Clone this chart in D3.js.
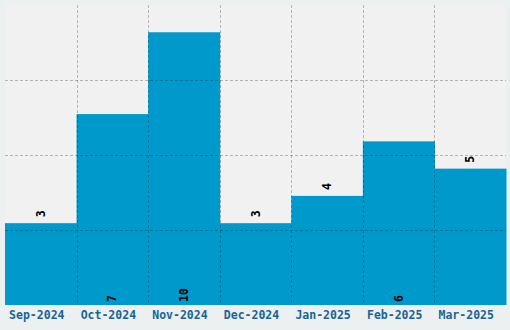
<!DOCTYPE html>
<html>
<head>
<meta charset="utf-8">
<script src="https://cdn.jsdelivr.net/npm/d3@7"></script>
<style>
  body { margin: 0; background: #edf0f0; }
  svg { display: block; }
  .tick-label { font-family: "DejaVu Sans Mono", monospace; font-weight: bold; font-size: 11.5px; fill: #17649a; }
  .val { font-family: "DejaVu Sans Mono", monospace; font-weight: bold; font-size: 11.5px; fill: #000; }
</style>
</head>
<body>
<svg id="chart"></svg>
<script>
var months = ["Sep-2024", "Oct-2024", "Nov-2024", "Dec-2024", "Jan-2025", "Feb-2025", "Mar-2025"];
var counts = [3, 7, 10, 3, 4, 6, 5];
var yMax = 11;

var width = 510,
    height = 330;
// plot area (note: "top" is a reserved window global, so prefix these)
var plotLeft = 5, plotRight = 506, plotTop = 5, plotBottom = 305;

var svg = d3.select("#chart")
    .attr("width", width)
    .attr("height", height);

var x = d3.scaleBand()
    .domain(months)
    .range([plotLeft, plotRight]);

var y = d3.scaleLinear()
    .domain([0, yMax])
    .range([plotBottom, plotTop]);

// plot background
svg.append("rect")
    .attr("x", plotLeft).attr("y", plotTop)
    .attr("width", plotRight - plotLeft).attr("height", plotBottom - plotTop)
    .attr("fill", "#f1f1f1");

// bars
svg.append("g").selectAll("rect")
    .data(counts).enter()
    .append("rect")
    .attr("x", function(d, i) { return x(months[i]); })
    .attr("y", function(d) { return y(d); })
    .attr("width", x.bandwidth() + 0.5)
    .attr("height", function(d) { return y(0) - y(d); })
    .attr("fill", "#0099cc");

// horizontal grid (4 even divisions)
var yGrid = d3.axisLeft(y)
    .tickValues([1, 2, 3].map(function(i) { return yMax * i / 4; }))
    .tickSize(-(plotRight - plotLeft))
    .tickFormat("");
svg.append("g")
    .attr("transform", "translate(" + plotLeft + ",-0.5)")
    .call(yGrid)
    .call(function(g) { g.select(".domain").remove(); })
    .selectAll("line")
    .attr("stroke", "rgba(0,0,0,0.25)")
    .attr("stroke-dasharray", "3,2")
    .attr("shape-rendering", "crispEdges");

// vertical grid at band boundaries
svg.append("g").selectAll("line")
    .data(months.slice(1)).enter()
    .append("line")
    .attr("x1", function(d) { return Math.round(x(d)) + 0.5; })
    .attr("x2", function(d) { return Math.round(x(d)) + 0.5; })
    .attr("y1", plotTop)
    .attr("y2", plotBottom)
    .attr("stroke", "rgba(0,0,0,0.25)")
    .attr("stroke-dasharray", "3,2")
    .attr("shape-rendering", "crispEdges");

// x axis labels
var xAxis = d3.axisBottom(x).tickSize(0).tickPadding(0);
svg.append("g")
    .attr("transform", "translate(-4," + plotBottom + ")")
    .call(xAxis)
    .call(function(g) { g.select(".domain").remove(); })
    .selectAll("text")
    .attr("class", "tick-label")
    .attr("y", 14)
    .attr("dy", null);
svg.selectAll(".tick-label").each(function() {
  this.parentNode.parentNode.removeAttribute("font-family");
  this.parentNode.parentNode.removeAttribute("font-size");
});

// value labels, rotated
svg.append("g").selectAll("text")
    .data(counts).enter()
    .append("text")
    .attr("class", "val")
    .attr("text-anchor", "start")
    .attr("dy", "0.35em")
    .attr("transform", function(d, i) {
      var cx = x(months[i]) + x.bandwidth() / 2;
      var cy = d > 5 ? plotBottom - 3 : y(d) - 6;
      return "translate(" + cx + "," + cy + ") rotate(-90)";
    })
    .text(function(d) { return d; });
</script>
</body>
</html>
